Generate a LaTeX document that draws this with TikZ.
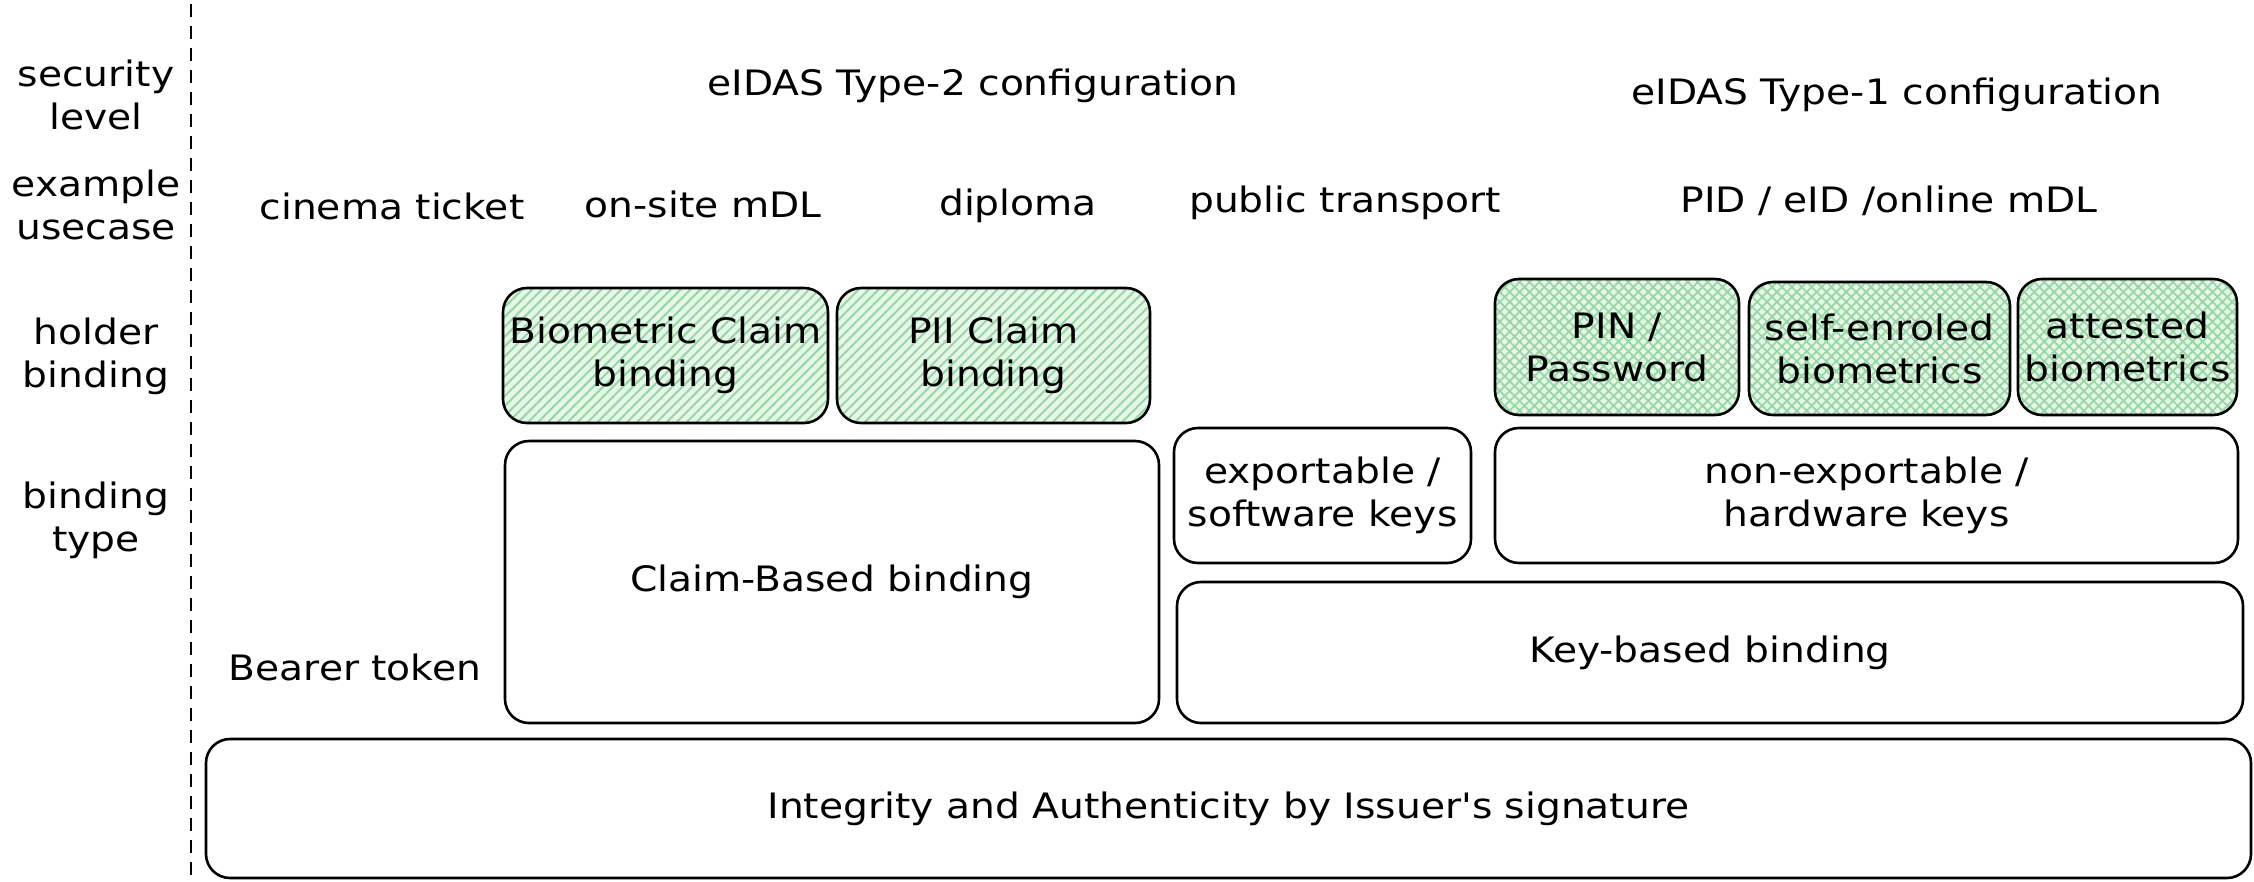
\documentclass[tikz,border=0pt]{standalone}
\usepackage{fontspec}
\setmainfont{DejaVu Sans}[FakeStretch=1.12, Ligatures=TeXOff]
\usetikzlibrary{patterns.meta}
\definecolor{hatchbg}{HTML}{E6F7E9}
\definecolor{hatchfg}{HTML}{98D6A3}
\tikzset{
  txt/.style={font=\fontsize{35pt}{43pt}\selectfont, align=center, inner sep=0pt},
  box/.style={draw=black, line width=2.6pt, rounded corners=24pt, txt},
  hatchbox/.style={box, preaction={fill=hatchbg},
    pattern={Lines[angle=45,distance=7pt,line width=2pt]}, pattern color=hatchfg},
  crossbox/.style={box, preaction={fill=hatchbg},
    pattern={Hatch[angle=45,distance=7pt,line width=1.8pt]}, pattern color=hatchfg},
}
\begin{document}
\begin{tikzpicture}[x=1pt,y=-1pt]
\useasboundingbox (0,0) rectangle (2254,881);
% dashed separator
\coordinate (dtop) at (191,4);
\coordinate (dbot) at (191,881);
\draw[line width=2pt, dash pattern=on 13pt off 9pt] (dtop) -- (dbot);
% left labels
\node[txt] (lsec) at (96,95) {security\\level};
\node[txt] (lex) at (96,205) {example\\usecase};
\node[txt] (lhold) at (96,356) {holder\\binding};
\node[txt] (ltype) at (96,520) {binding\\type};
% headers
\node[txt] (t2) at (973,86) {eIDAS Type-2 configuration};
\node[txt] (t1) at (1897,95) {eIDAS Type-1 configuration};
% use cases
\node[txt] (u1) at (392,206) {cinema ticket};
\node[txt] (u2) at (703,204) {on-site mDL};
\node[txt] (u3) at (1018,206) {diploma};
\node[txt] (u4) at (1345,203) {public transport};
\node[txt] (u5) at (1889,201) {PID / eID /online mDL};
% holder binding boxes
\node[hatchbox, minimum width=325pt, minimum height=135pt] (bio) at (665.5,355.5) {Biometric Claim\\binding};
\node[hatchbox, minimum width=313pt, minimum height=135pt] (pii) at (993.5,355.5) {PII Claim\\binding};
\node[crossbox, minimum width=244pt, minimum height=136pt] (pin) at (1617,347) {PIN /\\Password};
\node[crossbox, minimum width=261pt, minimum height=133pt] (self) at (1879.5,348.5) {self-enroled\\biometrics};
\node[crossbox, minimum width=219pt, minimum height=136pt] (att) at (2127.5,347) {attested\\biometrics};
% binding type boxes
\node[box, minimum width=654pt, minimum height=282pt] (claim) at (832,582) {Claim-Based binding};
\node[box, minimum width=297pt, minimum height=135pt] (exp) at (1322.5,495.5) {exportable /\\software keys};
\node[box, minimum width=743pt, minimum height=135pt] (nonexp) at (1866.5,495.5) {non-exportable /\\hardware keys};
\node[box, minimum width=1066pt, minimum height=141pt] (key) at (1710,652.5) {Key-based binding};
\node[txt] (bearer) at (355,667) {Bearer token};
\node[box, minimum width=2045pt, minimum height=139pt] (integ) at (1228.5,808.5) {Integrity and Authenticity by Issuer's signature};
\end{tikzpicture}
\end{document}
